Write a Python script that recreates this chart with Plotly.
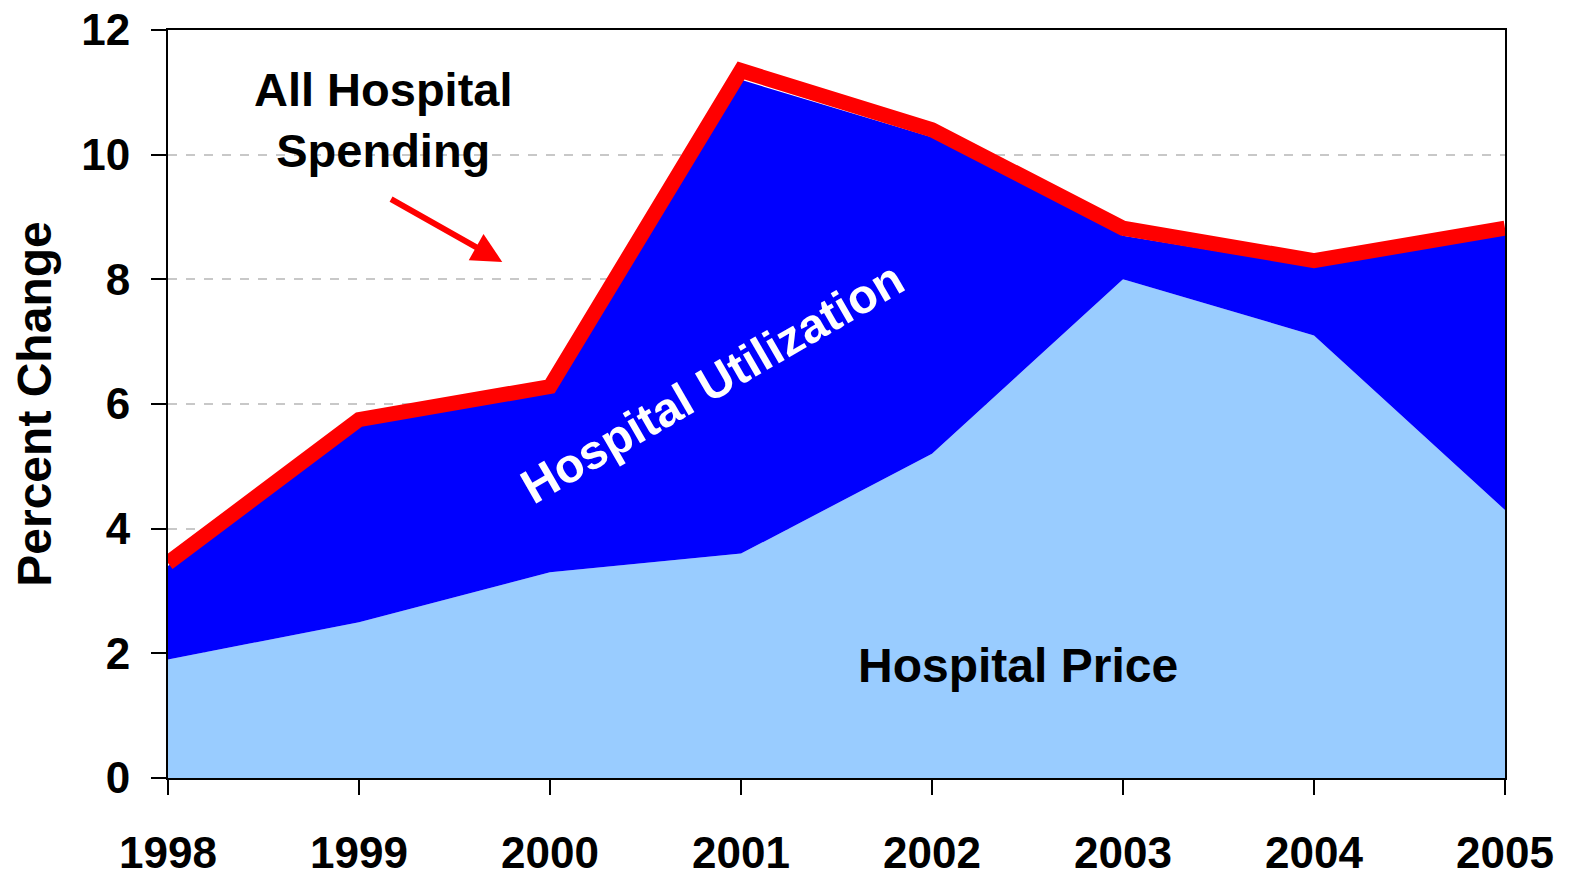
import plotly.graph_objects as go

years = [1998, 1999, 2000, 2001, 2002, 2003, 2004, 2005]
hospital_price = [1.9, 2.5, 3.3, 3.6, 5.2, 8.0, 7.1, 4.3]
price_plus_utilization = [3.4, 5.65, 6.2, 11.2, 10.28, 8.7, 8.2, 8.76]
all_hospital_spending = [3.45, 5.75, 6.28, 11.35, 10.4, 8.82, 8.3, 8.82]
y_ticks = [0, 2, 4, 6, 8, 10, 12]

FONT = "Liberation Sans, Arial, sans-serif"

fig = go.Figure()
fig.add_trace(go.Scatter(
    x=years, y=hospital_price, mode="lines", fill="tozeroy",
    fillcolor="#99CCFF", line=dict(color="#99CCFF", width=0),
    name="Hospital Price", showlegend=False, hoverinfo="skip"))
fig.add_trace(go.Scatter(
    x=years, y=price_plus_utilization, mode="lines", fill="tonexty",
    fillcolor="#0000FF", line=dict(color="#0000FF", width=0),
    name="Hospital Utilization", showlegend=False, hoverinfo="skip"))
fig.add_trace(go.Scatter(
    x=years, y=all_hospital_spending, mode="lines",
    line=dict(color="#FF0000", width=15),
    name="All Hospital Spending", showlegend=False, cliponaxis=False))

# page body has an 8px margin, so margins are shifted to keep the plot area in place
fig.update_layout(
    width=1571, height=877,
    margin=dict(l=160, r=74, t=22, b=107, autoexpand=False),
    paper_bgcolor="white", plot_bgcolor="white",
    font=dict(family=FONT, color="black", weight="bold"),
    xaxis=dict(
        range=[1998, 2005], tickmode="array", tickvals=years,
        ticktext=[str(y) for y in years],
        showline=True, linecolor="black", linewidth=2, mirror=True,
        ticks="outside", ticklen=15, tickwidth=2, tickcolor="black",
        tickfont=dict(size=44, family=FONT, weight="bold"),
        ticklabelstandoff=20, ticklabeloverflow="allow",
        showgrid=False, zeroline=False),
    yaxis=dict(
        range=[0, 12], tickmode="array", tickvals=y_ticks,
        showline=True, linecolor="black", linewidth=2, mirror=True,
        ticks="outside", ticklen=15, tickwidth=2, tickcolor="black",
        tickfont=dict(size=44, family=FONT, weight="bold"),
        ticklabelstandoff=12, ticklabeloverflow="allow",
        showgrid=True, gridcolor="#C8C8C8", griddash="dash", gridwidth=1.5,
        zeroline=False,
        title=dict(text="Percent Change", font=dict(size=48, family=FONT, weight="bold"),
                   standoff=30)),
)

fig.add_annotation(x=1999.13, y=10.55, xref="x", yref="y",
                   text="All Hospital<br>Spending", showarrow=False,
                   font=dict(size=47, family=FONT, weight="bold", color="black"))
fig.add_annotation(x=1999.75, y=8.28, ax=1999.16, ay=9.3, xref="x", yref="y",
                   axref="x", ayref="y", text="", showarrow=True,
                   arrowhead=2, arrowsize=1, arrowwidth=6, arrowcolor="#FF0000")
fig.add_annotation(x=2000.85, y=6.35, xref="x", yref="y",
                   text="Hospital Utilization", showarrow=False, textangle=-30,
                   font=dict(size=48, family=FONT, weight="bold", color="white"))
fig.add_annotation(x=2002.45, y=1.8, xref="x", yref="y",
                   text="Hospital Price", showarrow=False,
                   font=dict(size=48, family=FONT, weight="bold", color="black"))

fig.write_html("out.html")
